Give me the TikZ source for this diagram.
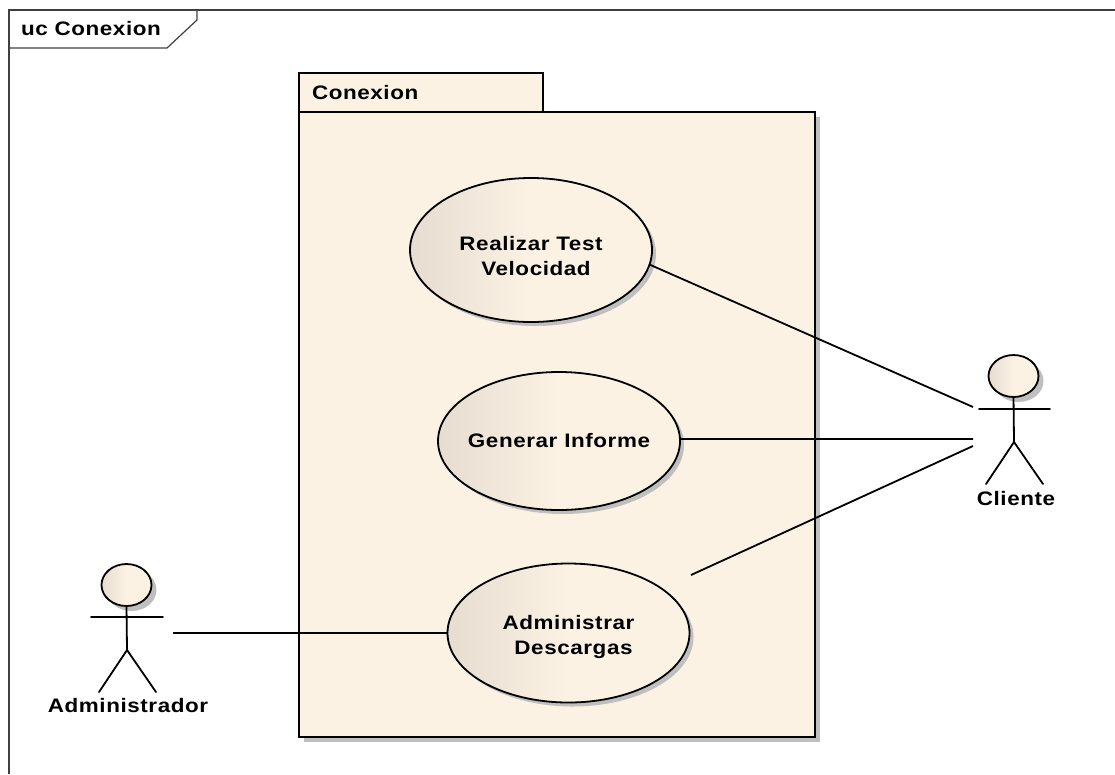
\documentclass[tikz,border=0pt]{standalone}
\usepackage{fontspec}
\setmainfont{Liberation Sans}[LetterSpace=3,FakeStretch=1.15]
\usetikzlibrary{shapes.geometric,shadows}
\definecolor{paper}{HTML}{FBF2E4}
\definecolor{paperdark}{HTML}{E6DDD0}
\definecolor{shadowgray}{HTML}{BFBFBF}
\begin{document}
\begin{tikzpicture}[x=1pt,y=-1pt]
\tikzset{ inner sep=0pt, outer sep=0pt,
  usecase/.style={ellipse, draw=black, line width=1.8pt, minimum width=242pt, inner xsep=-10pt,
    left color=paperdark, right color=paper, middle color=paper,
    drop shadow={shadow xshift=4pt, shadow yshift=-4pt, fill=shadowgray, opacity=1},
    font=\bfseries\fontsize{19.5}{25}\selectfont, align=center},
  head/.style={ellipse, draw=black, line width=1.8pt,
    left color=paperdark, right color=paper, middle color=paper,
    drop shadow={shadow xshift=5pt, shadow yshift=-5pt, fill=shadowgray, opacity=1}},
  pack/.style={rectangle, draw=black, line width=2pt, fill=paper},
  caption/.style={font=\bfseries\fontsize{19.5}{22}\selectfont},
  stick/.style={line width=1.8pt, line cap=round},
  link/.style={line width=1.8pt},
}
\useasboundingbox (0,0) rectangle (1115,774);

% frame
\draw [line width=1.2pt, black!75] (1115,10) -- (9,10) -- (9,774);
\draw [line width=1.2pt, black!75] (9,48) -- (167,48) -- (197,20) -- (197,10);
\node [caption, anchor=west] (UC) at (21,29) {uc Conexion};

% package
\node [pack, minimum width=516pt, minimum height=625pt,
  drop shadow={shadow xshift=5pt, shadow yshift=-5pt, fill=shadowgray, opacity=1}] (P) at (557,424.5) {};
\node [pack, minimum width=244pt, minimum height=39pt] (T) at (421,92.5) {};
\node [caption, anchor=west] (Tname) at (312,93) {Conexion};

% use cases
\node [usecase, minimum height=144pt] (RT) at (531,250) {\rule{0pt}{26pt}Realizar Test\\\hspace*{10pt}Velocidad};
\node [usecase, minimum height=138pt] (GI) at (559,441) {Generar Informe};
\node [usecase, minimum height=139pt] (AD) at (568.5,633) {\rule{0pt}{23pt}Administrar\\\hspace*{10pt}Descargas};

% Cliente
\node [head, minimum width=50pt, minimum height=42pt] (CL) at (1013.5,376) {};
\coordinate (CLa) at (979,409);
\coordinate (CLb) at (1050,409);
\coordinate (CLc) at (1014,442);
\coordinate (CLd) at (986,484);
\coordinate (CLe) at (1043,484);
\draw [stick] (CL.south) -- (CLc);
\draw [stick] (CLa) -- (CLb);
\draw [stick] (CLd) -- (CLc) -- (CLe);
\node [caption] (CLname) at (1016,499) {Cliente};

% Administrador
\node [head, minimum width=50pt, minimum height=42pt] (AM) at (126.5,585) {};
\coordinate (AMa) at (91,617);
\coordinate (AMb) at (163,617);
\coordinate (AMc) at (127,650);
\coordinate (AMd) at (99,692);
\coordinate (AMe) at (156,692);
\draw [stick] (AM.south) -- (AMc);
\draw [stick] (AMa) -- (AMb);
\draw [stick] (AMd) -- (AMc) -- (AMe);
\node [caption] (AMname) at (128,706) {Administrador};

% links
\coordinate (CL1) at (973,407);
\coordinate (CL2) at (973,439);
\coordinate (CL3) at (973,446);
\coordinate (AD1) at (691,575);
\coordinate (AM1) at (173,633);
\draw [link] (RT.-7) -- (CL1);
\draw [link] (GI.1) -- (CL2);
\draw [link] (AD1) -- (CL3);
\draw [link] (AM1) -- (AD.west);
\end{tikzpicture}
\end{document}
